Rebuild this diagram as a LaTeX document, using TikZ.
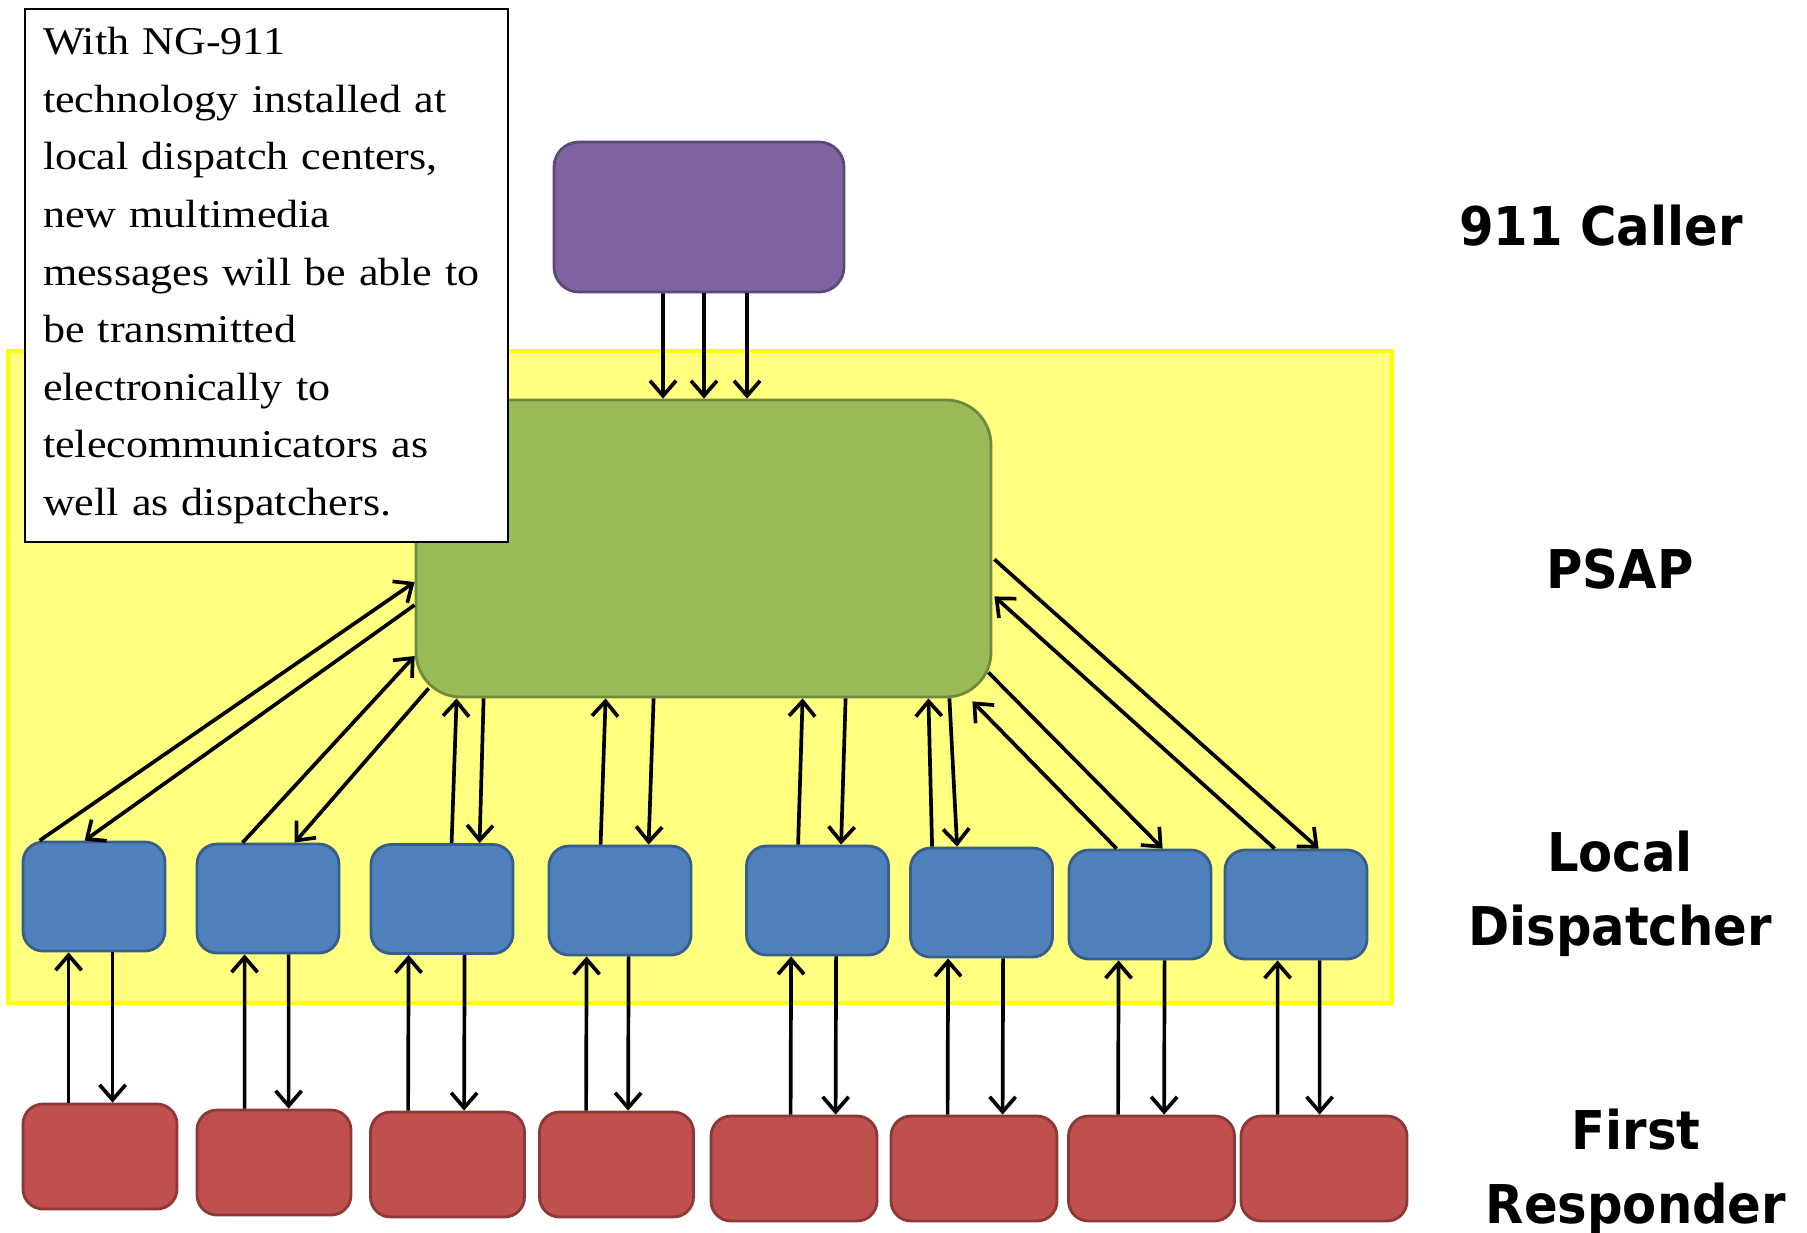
\documentclass[tikz,border=0pt]{standalone}
\usepackage{fontspec}
\setmainfont{Liberation Serif}[FakeStretch=1.12]
\newfontfamily\tierfont{DejaVu Sans}[FakeStretch=0.93]
\usetikzlibrary{
    arrows.meta,
    positioning,
    calc
}

\definecolor{callerfill}{HTML}{8064A2}
\definecolor{callerdraw}{HTML}{5C4776}
\definecolor{psapfill}{HTML}{9BBB59}
\definecolor{psapdraw}{HTML}{71893F}
\definecolor{dispfill}{HTML}{4F81BD}
\definecolor{dispdraw}{HTML}{385D8A}
\definecolor{respfill}{HTML}{C0504D}
\definecolor{respdraw}{HTML}{8C3836}
\definecolor{zonefill}{HTML}{FFFF80}
\definecolor{zonedraw}{HTML}{FFFF00}

\begin{document}
\begin{tikzpicture}[
  >={Straight Barb[length=1.5mm, width=2.6mm]},
  link/.style       = {->, line width=1.05pt},
  caller/.style     = {rectangle, rounded corners=0.25cm, draw=callerdraw, fill=callerfill,
                       line width=0.8pt, minimum width=2.9cm, minimum height=1.5cm},
  psap/.style       = {rectangle, rounded corners=0.45cm, draw=psapdraw, fill=psapfill,
                       line width=0.8pt, minimum width=5.75cm, minimum height=2.97cm},
  dispatcher/.style = {rectangle, rounded corners=0.2cm, draw=dispdraw, fill=dispfill,
                       line width=0.8pt, minimum width=1.42cm, minimum height=1.09cm},
  responder/.style  = {rectangle, rounded corners=0.2cm, draw=respdraw, fill=respfill,
                       line width=0.8pt, minimum width=1.54cm, minimum height=1.05cm},
  note/.style       = {rectangle, draw, fill=white, line width=0.6pt, align=left,
                       text width=4.47cm, inner xsep=0.18cm, minimum height=5.33cm,
                       font=\fontsize{11.2}{16.4}\selectfont},
  tier/.style       = {align=center, font=\tierfont\bfseries\fontsize{15.2}{21}\selectfont}
]
\useasboundingbox (0,0) rectangle (18.07,-12.32);

% PSAP zone
\draw[fill=zonefill, draw=zonedraw, line width=1pt] (0.08,-3.51) rectangle (13.92,-10.03);

% Nodes
\node[psap]   (psap)   at (7.035,-5.485) {};
\node[caller] (caller) at (6.99,-2.17) {};
\node[note, anchor=north west] (note) at (0.24,-0.08)
  {With NG-911\\
   technology installed at\\
   local dispatch centers,\\
   new multimedia\\
   messages will be able to\\
   be transmitted\\
   electronically to\\
   telecommunicators as\\
   well as dispatchers.};

\node[dispatcher] (d1) at (0.94,-8.965) {};
\node[dispatcher] (d2) at (2.68,-8.985) {};
\node[dispatcher] (d3) at (4.42,-8.99) {};
\node[dispatcher] (d4) at (6.20,-9.005) {};
\node[dispatcher] (d5) at (8.175,-9.005) {};
\node[dispatcher] (d6) at (9.815,-9.025) {};
\node[dispatcher] (d7) at (11.40,-9.045) {};
\node[dispatcher] (d8) at (12.96,-9.045) {};

\node[responder] (r1) at (1.00,-11.565) {};
\node[responder] (r2) at (2.74,-11.625) {};
\node[responder] (r3) at (4.475,-11.645) {};
\node[responder] (r4) at (6.165,-11.645) {};
\node[responder, minimum width=1.66cm] (r5) at (7.94,-11.685) {};
\node[responder, minimum width=1.66cm] (r6) at (9.74,-11.685) {};
\node[responder, minimum width=1.66cm] (r7) at (11.515,-11.685) {};
\node[responder, minimum width=1.66cm] (r8) at (13.24,-11.685) {};

% Tier labels
\node[tier, anchor=base] (lcaller) at (16.01,-2.45) {911 Caller};
\node[tier, anchor=base] (lpsap)   at (16.20,-5.88) {PSAP};
\node[tier] (ldisp) at (16.20,-8.94) {Local\\Dispatcher};
\node[tier] (lresp) at (16.36,-11.72) {First\\Responder};

% Caller to PSAP
\draw[link] ([xshift=-0.36cm]caller.south) -- ([xshift=-0.405cm]psap.north);
\draw[link] ([xshift=0.05cm]caller.south)  -- ([xshift=0.005cm]psap.north);
\draw[link] ([xshift=0.48cm]caller.south)  -- ([xshift=0.435cm]psap.north);

% PSAP <-> local dispatchers
\draw[link] ([xshift=0.18cm]d1.north west) -- ([yshift=-0.335cm]psap.west);
\draw[link] ([yshift=-0.565cm]psap.west) -- ([xshift=0.63cm]d1.north west);
\draw[link] ([xshift=0.47cm]d2.north west) -- ([yshift=-1.075cm]psap.west);
\draw[link] ([shift={(0.14cm,0.10cm)}]psap.south west) -- ([xshift=0.99cm]d2.north west);
\draw[link] ([xshift=0.82cm]d3.north west) -- ([xshift=0.42cm]psap.south west);
\draw[link] ([xshift=0.69cm]psap.south west) -- ([xshift=1.10cm]d3.north west);
\draw[link] ([xshift=0.53cm]d4.north west) -- ([xshift=1.91cm]psap.south west);
\draw[link] ([xshift=2.39cm]psap.south west) -- ([xshift=1.01cm]d4.north west);
\draw[link] ([xshift=0.53cm]d5.north west) -- ([xshift=3.88cm]psap.south west);
\draw[link] ([xshift=4.31cm]psap.south west) -- ([xshift=0.96cm]d5.north west);
\draw[link] ([xshift=0.23cm]d6.north west) -- ([xshift=-0.64cm]psap.south east);
\draw[link] ([xshift=-0.43cm]psap.south east) -- ([xshift=0.48cm]d6.north west);
\draw[link] ([xshift=0.49cm]d7.north west) -- ([shift={(-0.20cm,-0.03cm)}]psap.south east);
\draw[link] ([shift={(-0.04cm,0.26cm)}]psap.south east) -- ([xshift=0.95cm]d7.north west);
\draw[link] ([xshift=0.51cm]d8.north west) -- ([shift={(0.02cm,1.02cm)}]psap.south east);
\draw[link] ([shift={(0.02cm,1.39cm)}]psap.south east) -- ([xshift=0.95cm]d8.north west);

% Local dispatchers <-> first responders
\draw[link] ([xshift=0.47cm]r1.north west) -- ([xshift=0.47cm]d1.south west);
\draw[link] ([xshift=0.91cm]d1.south west) -- ([xshift=0.91cm]r1.north west);
\draw[link] ([xshift=0.49cm]r2.north west) -- ([xshift=0.49cm]d2.south west);
\draw[link] ([xshift=0.93cm]d2.south west) -- ([xshift=0.93cm]r2.north west);
\draw[link] ([xshift=0.39cm]r3.north west) -- ([xshift=0.39cm]d3.south west);
\draw[link] ([xshift=0.95cm]d3.south west) -- ([xshift=0.95cm]r3.north west);
\draw[link] ([xshift=0.48cm]r4.north west) -- ([xshift=0.39cm]d4.south west);
\draw[link] ([xshift=0.81cm]d4.south west) -- ([xshift=0.90cm]r4.north west);
\draw[link] ([xshift=0.81cm]r5.north west) -- ([xshift=0.46cm]d5.south west);
\draw[link] ([xshift=0.91cm]d5.south west) -- ([xshift=1.26cm]r5.north west);
\draw[link] ([xshift=0.58cm]r6.north west) -- ([xshift=0.39cm]d6.south west);
\draw[link] ([xshift=0.94cm]d6.south west) -- ([xshift=1.13cm]r6.north west);
\draw[link] ([xshift=0.51cm]r7.north west) -- ([xshift=0.51cm]d7.south west);
\draw[link] ([xshift=0.97cm]d7.south west) -- ([xshift=0.97cm]r7.north west);
\draw[link] ([xshift=0.38cm]r8.north west) -- ([xshift=0.54cm]d8.south west);
\draw[link] ([xshift=0.96cm]d8.south west) -- ([xshift=0.80cm]r8.north west);

\end{tikzpicture}
\end{document}
